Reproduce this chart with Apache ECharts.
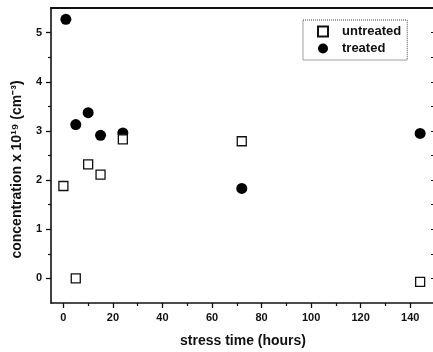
<!DOCTYPE html>
<html>
<head>
<meta charset="utf-8">
<script src="https://cdn.jsdelivr.net/npm/echarts@6/dist/echarts.min.js"></script>
<style>
  html, body { margin: 0; background: #fff; }
  #stress-graph { width: 433px; height: 352px; }
</style>
</head>
<body>
<div id="stress-graph"></div>
<script>
  // values
  const untreatedHours = [0, 5, 10, 15, 24, 72, 144]
  const untreatedConc = [1.88, 0.0, 2.32, 2.11, 2.83, 2.79, -0.07]
  const treatedHours = [1, 5, 10, 15, 24, 72, 144]
  const treatedConc = [5.27, 3.13, 3.37, 2.91, 2.96, 1.83, 2.95]

  const xTicks = [0, 20, 40, 60, 80, 100, 120, 140]
  const xMinorTicks = [10, 30, 50, 70, 90, 110, 130]
  const yTicks = [0, 1, 2, 3, 4, 5]
  const yMinorTicks = [0.5, 1.5, 2.5, 3.5, 4.5]

  const font = 'Liberation Sans, Arial, sans-serif'
  const pairs = (xs, ys) => xs.map((x, i) => [x, ys[i]])

  const myChart = echarts.init(document.getElementById('stress-graph'))
  myChart.setOption({
    animation: false,
    textStyle: { fontFamily: font },
    grid: { left: 51, right: -2, top: 8, bottom: 49, outerBoundsMode: 'none', containLabel: false },
    legend: {
      data: ['untreated', 'treated'],
      orient: 'vertical',
      left: 303,
      top: 20,
      padding: [5, 6, 5, 14],
      itemGap: 4,
      itemWidth: 10,
      itemHeight: 10,
      borderType: 'dotted',
      borderColor: '#444',
      borderWidth: 1,
      textStyle: { fontWeight: 'bold', fontSize: 13, color: '#111', padding: [0, 0, 0, 9] }
    },
    xAxis: [{
      type: 'value',
      min: -5,
      max: 150,
      name: 'stress time (hours)',
      nameLocation: 'middle',
      nameGap: 31,
      nameTextStyle: { fontWeight: 'bold', fontSize: 14, color: '#111' },
      splitLine: { show: false },
      axisLine: { onZero: false, lineStyle: { color: '#111', width: 1.6 } },
      axisTick: { customValues: xTicks, length: 5, lineStyle: { color: '#111', width: 1.3 } },
      axisLabel: { customValues: xTicks, fontWeight: 'bold', fontSize: 11, color: '#111', margin: 9 }
    }, {
      type: 'value',
      min: -5,
      max: 150,
      position: 'bottom',
      splitLine: { show: false },
      axisLine: { show: false, onZero: false },
      axisTick: { customValues: xMinorTicks, length: 3, lineStyle: { color: '#111', width: 1.2 } },
      axisLabel: { show: false }
    }, {
      type: 'value',
      min: -5,
      max: 150,
      position: 'top',
      splitLine: { show: false },
      axisLine: { onZero: false, lineStyle: { color: '#111', width: 2 } },
      axisTick: { show: false },
      axisLabel: { show: false }
    }],
    yAxis: [{
      type: 'value',
      min: -0.5,
      max: 5.5,
      name: 'concentration x 10¹⁹ (cm⁻³)',
      nameLocation: 'middle',
      nameGap: 27,
      nameTextStyle: { fontWeight: 'bold', fontSize: 14, color: '#111', padding: [0, 28, 0, 0] },
      splitLine: { show: false },
      axisLine: { onZero: false, lineStyle: { color: '#111', width: 1.6 } },
      axisTick: { customValues: yTicks, length: 5, lineStyle: { color: '#111', width: 1.3 } },
      axisLabel: { customValues: yTicks, fontWeight: 'bold', fontSize: 11, color: '#111', margin: 9 }
    }, {
      type: 'value',
      min: -0.5,
      max: 5.5,
      position: 'left',
      splitLine: { show: false },
      axisLine: { show: false, onZero: false },
      axisTick: { customValues: yMinorTicks, length: 3, lineStyle: { color: '#111', width: 1.2 } },
      axisLabel: { show: false }
    }, {
      type: 'value',
      min: -0.5,
      max: 5.5,
      position: 'right',
      splitLine: { show: false },
      axisLine: { onZero: false, lineStyle: { color: '#111', width: 1.6 } },
      axisTick: { inside: true, customValues: yTicks.concat(yMinorTicks), length: 4, lineStyle: { color: '#111', width: 1.2 } },
      axisLabel: { show: false }
    }],
    series: [{
      name: 'untreated',
      type: 'scatter',
      symbol: 'rect',
      symbolSize: 9,
      itemStyle: { color: '#fff', borderColor: '#111', borderWidth: 1.3, opacity: 1 },
      data: pairs(untreatedHours, untreatedConc),
      z: 3
    }, {
      name: 'treated',
      type: 'scatter',
      symbol: 'circle',
      symbolSize: 11,
      itemStyle: { color: '#000', opacity: 1 },
      data: pairs(treatedHours, treatedConc),
      z: 2
    }]
  })
</script>
</body>
</html>
